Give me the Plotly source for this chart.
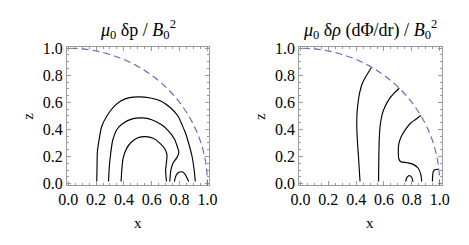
import plotly.graph_objects as go

# ---- data ----
tick_vals = [0.0, 0.2, 0.4, 0.6, 0.8, 1.0]
tick_text = ["0.0", "0.2", "0.4", "0.6", "0.8", "1.0"]
boundary_radius = 1.0

titles = ["<i>μ</i><sub>0</sub> δp / <i>B</i><sub>0</sub><sup>2</sup>",
          "<i>μ</i><sub>0</sub> δ<i>ρ</i> (dΦ/dr) / <i>B</i><sub>0</sub><sup>2</sup>"]

# left panel: pressure perturbation contours (x, z)
p_outer_x = [0.205, 0.207, 0.21, 0.223, 0.24, 0.28, 0.33, 0.372, 0.44, 0.51, 0.59, 0.671, 0.735, 0.786, 0.82, 0.845, 0.865, 0.89, 0.905, 0.913]
p_outer_z = [0.015, 0.12, 0.24, 0.33, 0.42, 0.503, 0.57, 0.607, 0.635, 0.641, 0.632, 0.607, 0.56, 0.503, 0.43, 0.366, 0.30, 0.2, 0.1, 0.015]

p_mid_x = [0.29, 0.295, 0.305, 0.32, 0.35, 0.395, 0.46, 0.533, 0.60, 0.671, 0.72, 0.763, 0.785, 0.795, 0.78, 0.755, 0.74, 0.733, 0.73]
p_mid_z = [0.015, 0.12, 0.22, 0.32, 0.40, 0.446, 0.478, 0.485, 0.472, 0.434, 0.39, 0.33, 0.27, 0.23, 0.19, 0.155, 0.11, 0.06, 0.015]

p_in_x = [0.38, 0.385, 0.395, 0.42, 0.453, 0.50, 0.556, 0.61, 0.66, 0.695, 0.71, 0.705, 0.70, 0.703, 0.706]
p_in_z = [0.015, 0.1, 0.19, 0.26, 0.305, 0.338, 0.347, 0.335, 0.297, 0.255, 0.21, 0.15, 0.1, 0.05, 0.015]

p_loop_x = [0.763, 0.775, 0.795, 0.815, 0.835, 0.852, 0.865]
p_loop_z = [0.015, 0.06, 0.083, 0.087, 0.075, 0.045, 0.015]

# right panel: density * gravity perturbation contours (x, z)
r_c1_x = [0.51, 0.475, 0.446, 0.425, 0.412, 0.405, 0.405, 0.41, 0.418, 0.424, 0.428]
r_c1_z = [0.858, 0.80, 0.745, 0.67, 0.584, 0.49, 0.40, 0.30, 0.18, 0.08, 0.015]

r_c2_x = [0.71, 0.675, 0.641, 0.61, 0.588, 0.574, 0.567, 0.563, 0.561]
r_c2_z = [0.704, 0.67, 0.63, 0.575, 0.515, 0.44, 0.35, 0.2, 0.015]

r_c3_x = [0.864, 0.83, 0.79, 0.755, 0.722, 0.706, 0.703, 0.708, 0.72, 0.768, 0.81, 0.845, 0.864, 0.871]
r_c3_z = [0.503, 0.475, 0.446, 0.40, 0.343, 0.29, 0.23, 0.18, 0.162, 0.154, 0.142, 0.115, 0.07, 0.015]

r_loop_x = [0.756, 0.762, 0.775, 0.787, 0.80, 0.808]
r_loop_z = [0.015, 0.04, 0.056, 0.058, 0.045, 0.015]

r_c5_x = [0.948, 0.95, 0.955, 0.97, 0.994]
r_c5_z = [0.015, 0.06, 0.09, 0.104, 0.106]

left_curves = [(p_outer_x, p_outer_z), (p_mid_x, p_mid_z), (p_in_x, p_in_z), (p_loop_x, p_loop_z)]
right_curves = [(r_c1_x, r_c1_z), (r_c2_x, r_c2_z), (r_c3_x, r_c3_z), (r_loop_x, r_loop_z), (r_c5_x, r_c5_z)]

# ---- figure ----
W, H = 469, 245
fig = go.Figure()

for curves, xa, ya in [(left_curves, "x", "y"), (right_curves, "x2", "y2")]:
    for cx, cz in curves:
        fig.add_trace(go.Scatter(x=cx, y=cz, mode="lines", xaxis=xa, yaxis=ya,
                                 line=dict(color="black", width=1.15, shape="spline", smoothing=0.8),
                                 hoverinfo="skip", showlegend=False))

for xr, yr in [("x", "y"), ("x2", "y2")]:
    fig.add_shape(type="circle", xref=xr, yref=yr,
                  x0=-boundary_radius, y0=-boundary_radius, x1=boundary_radius, y1=boundary_radius,
                  line=dict(color="#6262bf", width=1.1, dash="7px,4px"), layer="above")

frame = "#9a9a9a"
SERIF = "Liberation Serif, Times New Roman, DejaVu Serif, serif"
tickfont = dict(family=SERIF, size=16, color="black")

def ax(domain, anchor, rng):
    return dict(domain=domain, anchor=anchor, range=rng, showgrid=False, zeroline=False,
                showline=True, linecolor=frame, linewidth=1, mirror="allticks",
                ticks="inside", ticklen=4, tickcolor=frame, tickwidth=1,
                tickvals=tick_vals, ticktext=tick_text, tickfont=tickfont,
                minor=dict(dtick=0.05, tick0=0, ticks="inside", ticklen=2, tickcolor=frame, showgrid=False),
                fixedrange=True)

xl = [60 / W, 208 / W]
xr_ = [301 / W, 449 / W]
yd = [(H - 189) / H, (H - 42) / H]

fig.update_layout(
    width=W, height=H, margin=dict(l=0, r=0, t=0, b=0),
    paper_bgcolor="white", plot_bgcolor="white",
    xaxis=ax(xl, "y", [-0.01, 1.015]),
    yaxis=ax(yd, "x", [-0.012, 1.012]),
    xaxis2=ax(xr_, "y2", [-0.01, 1.015]),
    yaxis2=ax(yd, "x2", [-0.012, 1.012]),
)

serif = dict(family=SERIF, size=18, color="black")
lab = dict(family=SERIF, size=15, color="black")
for i, dom in enumerate([xl, xr_]):
    cx = (dom[0] + dom[1]) / 2
    fig.add_annotation(text=titles[i], x=cx, y=(H - 24) / H, xref="paper", yref="paper",
                       showarrow=False, font=serif, xanchor="center", yanchor="middle")
    fig.add_annotation(text="x", x=cx, y=(H - 229) / H, xref="paper", yref="paper",
                       showarrow=False, font=lab, xanchor="center", yanchor="middle")
    fig.add_annotation(text="z", x=(dom[0] * W - 40) / W, y=(H - 116) / H, xref="paper", yref="paper",
                       showarrow=False, font=lab, textangle=-90, xanchor="center", yanchor="middle")

fig.write_html("out.html", config={"displayModeBar": False},
               post_script="document.body.style.margin='0';document.body.style.overflow='hidden';")
